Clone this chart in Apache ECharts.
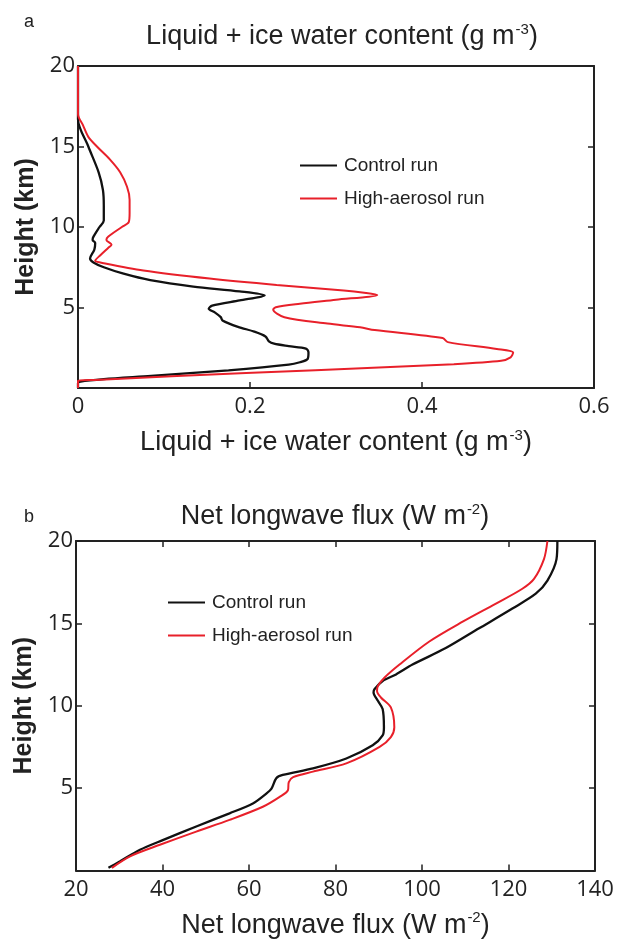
<!DOCTYPE html>
<html>
<head>
<meta charset="utf-8">
<script src="https://cdn.jsdelivr.net/npm/echarts@6/dist/echarts.min.js"></script>
<style>
  html, body { margin: 0; padding: 0; background: #fff; }
  #main { width: 619px; height: 940px; }
</style>
</head>
<body>
<div id="main"></div>
<script>
// panel a: liquid + ice water content [g m-3, height km]
var lwcControl = [
    [0, 20], [0, 16.7], [0.012, 15], [0.024, 13.4], [0.029, 12.3], [0.030, 11.3], [0.030, 10.4],
    [0.025, 10.0], [0.018, 9.4], [0.017, 9.2], [0.020, 9.0], [0.019, 8.6], [0.014, 8.05], [0.018, 7.8],
    [0.030, 7.5], [0.053, 7.1], [0.084, 6.7], [0.134, 6.3], [0.188, 6.0], [0.217, 5.75], [0.188, 5.44],
    [0.156, 5.12], [0.152, 4.92], [0.159, 4.7], [0.166, 4.4], [0.168, 4.2], [0.186, 3.8], [0.205, 3.5],
    [0.218, 3.2], [0.222, 2.9], [0.228, 2.75], [0.245, 2.6], [0.265, 2.45], [0.268, 2.2], [0.267, 1.8],
    [0.258, 1.6], [0.245, 1.45], [0.175, 1.1], [0.085, 0.75], [0.030, 0.55], [0.003, 0.4], [0, 0.3], [0, 0]
];
var lwcAerosol = [
    [0, 20], [0, 17.0], [0.006, 16.3], [0.012, 15.6], [0.022, 15.0], [0.037, 14.2], [0.049, 13.4],
    [0.057, 12.5], [0.060, 11.7], [0.060, 10.85], [0.059, 10.3], [0.051, 10.0], [0.035, 9.4], [0.033, 9.2],
    [0.039, 8.9], [0.035, 8.7], [0.026, 8.25], [0.020, 7.9], [0.026, 7.8], [0.076, 7.3], [0.153, 6.8],
    [0.231, 6.4], [0.309, 6.06], [0.335, 5.9], [0.348, 5.78], [0.300, 5.48], [0.258, 5.23], [0.230, 5.02],
    [0.227, 4.88], [0.240, 4.4], [0.290, 4.0], [0.328, 3.77], [0.345, 3.6], [0.424, 3.1], [0.430, 2.85],
    [0.487, 2.42], [0.506, 2.2], [0.503, 1.9], [0.492, 1.69], [0.437, 1.48], [0.276, 1.1], [0.115, 0.75],
    [0.020, 0.5], [0, 0.45], [0, 0]
];
// panel b: net longwave flux [W m-2, height km]
var lwControl = [
    [131.3, 20], [131.1, 18.9], [129.0, 17.6], [126.3, 16.8], [120.9, 15.9], [113.2, 14.7], [105.5, 13.5],
    [97.8, 12.5], [94.0, 11.9], [90.9, 11.5], [89.0, 11.0], [88.8, 10.8], [89.8, 10.3], [90.9, 9.8],
    [91.2, 8.7], [90.9, 8.2], [88.6, 7.6], [82.5, 6.8], [74.8, 6.2], [67.8, 5.8], [66.3, 5.6], [65.2, 4.97],
    [64.0, 4.67], [60.9, 4.07], [55.5, 3.47], [47.8, 2.67], [40.2, 1.86], [34.8, 1.26], [30.2, 0.56], [27.5, 0.16]
];
var lwAerosol = [
    [129.0, 20], [128.2, 18.9], [125.9, 17.7], [123.2, 17.1], [117.1, 16.2], [109.4, 15.1], [101.7, 13.9],
    [94.8, 12.5], [91.3, 11.7], [89.8, 11.2], [89.6, 10.9], [90.5, 10.5], [92.8, 9.9], [93.6, 8.7],
    [92.8, 8.1], [90.2, 7.5], [82.5, 6.5], [74.8, 6.0], [70.2, 5.67], [69.2, 5.37], [69.0, 4.87],
    [67.1, 4.47], [63.2, 3.87], [55.5, 3.07], [47.8, 2.36], [39.4, 1.56], [32.5, 0.86], [28.3, 0.16]
];
var runNames = ['Control run', 'High-aerosol run'];

var myChart = echarts.init(document.getElementById('main'));

var axisCol = '#222';
var tickFont = { fontFamily: 'Open Sans', fontSize: 22, color: '#222' };
var supRich = {
    base: { fontFamily: 'Liberation Sans', fontSize: 27, fontWeight: 'normal', color: '#222', lineHeight: 30 },
    sup: { fontFamily: 'Liberation Sans', fontSize: 15, fontWeight: 'normal', color: '#222', verticalAlign: 'top', lineHeight: 16, padding: [0, 0, 0, 1] }
};

// 主轴
function mainX(grid, min, max, interval, name, gap) {
    return {
        type: 'value', gridIndex: grid, min: min, max: max, interval: interval, position: 'bottom',
        name: name, nameLocation: 'middle', nameGap: gap,
        nameTextStyle: { rich: supRich },
        axisLine: { show: true, onZero: false, lineStyle: { color: axisCol, width: 2 } },
        axisTick: { show: true, inside: true, length: 6, lineStyle: { color: axisCol, width: 1.5 } },
        axisLabel: Object.assign({ margin: 8 }, tickFont),
        splitLine: { show: false }
    };
}
// 对边（只画线和刻度）
function sideAxis(isX, grid, min, max, interval, ticks) {
    return {
        type: 'value', gridIndex: grid, min: min, max: max, interval: interval,
        position: isX ? 'top' : 'right',
        axisLine: { show: true, onZero: false, lineStyle: { color: axisCol, width: 2 } },
        axisTick: { show: ticks, inside: true, length: 6, lineStyle: { color: axisCol, width: 1.5 } },
        axisLabel: { show: false },
        splitLine: { show: false }
    };
}
function mainY(grid) {
    return {
        type: 'value', gridIndex: grid, min: 0, max: 20, interval: 5, position: 'left',
        name: 'Height (km)', nameLocation: 'middle', nameGap: 34, nameRotate: 90,
        nameTextStyle: { fontFamily: 'Liberation Sans', fontSize: 25, fontWeight: 'bold', color: '#222' },
        axisLine: { show: true, onZero: false, lineStyle: { color: axisCol, width: 2 } },
        axisTick: { show: true, inside: true, length: 6, lineStyle: { color: axisCol, width: 1.5 } },
        axisLabel: Object.assign({
            margin: 3,
            formatter: function (v) { return v === 0 ? '' : v; }
        }, tickFont),
        splitLine: { show: false }
    };
}
function legendAt(left, top) {
    return {
        left: left, top: top, orient: 'vertical', itemGap: 14,
        icon: 'rect', itemWidth: 37, itemHeight: 2,
        data: runNames,
        selectedMode: false,
        textStyle: { fontFamily: 'Liberation Sans', fontSize: 19, color: '#222', padding: [0, 0, 0, 2] }
    };
}
function line(name, data, xi, yi, color, w) {
    return {
        name: name, type: 'line', xAxisIndex: xi, yAxisIndex: yi, data: data,
        showSymbol: false, smooth: 0.3, color: color,
        lineStyle: { color: color, width: w }
    };
}

option = {
    backgroundColor: '#fff',
    animation: false,
    title: [
        { text: 'a', left: 19, top: 8, textStyle: { fontFamily: 'Liberation Sans', fontSize: 18, fontWeight: 'normal', color: '#222' } },
        { text: '{base|Liquid + ice water content (g m}{sup|-3}{base|)}', left: 337, top: 17, textAlign: 'center',
          textStyle: { fontWeight: 'normal', rich: supRich } },
        { text: 'b', left: 19, top: 503, textStyle: { fontFamily: 'Liberation Sans', fontSize: 18, fontWeight: 'normal', color: '#222' } },
        { text: '{base|Net longwave flux (W m}{sup|-2}{base|)}', left: 330, top: 497, textAlign: 'center',
          textStyle: { fontWeight: 'normal', rich: supRich } }
    ],
    legend: [legendAt(295, 151), legendAt(163, 588)],
    grid: [
        { left: 78, right: 25, top: 66, height: 322 },
        { left: 76, right: 24, top: 541, height: 332 }
    ],
    xAxis: [
        mainX(0, 0, 0.6, 0.2, '{base|Liquid + ice water content (g m}{sup|-3}{base|)}', 40),
        sideAxis(true, 0, 0, 0.6, 0.2, false),
        mainX(1, 20, 140, 20, '{base|Net longwave flux (W m}{sup|-2}{base|)}', 40),
        sideAxis(true, 1, 20, 140, 20, true)
    ],
    yAxis: [
        mainY(0),
        sideAxis(false, 0, 0, 20, 5, true),
        mainY(1),
        sideAxis(false, 1, 0, 20, 5, true)
    ],
    series: [
        line(runNames[0], lwcControl, 0, 0, '#111', 2.3),
        line(runNames[1], lwcAerosol, 0, 0, '#e8202a', 2),
        line(runNames[0], lwControl, 2, 2, '#111', 2.3),
        line(runNames[1], lwAerosol, 2, 2, '#e8202a', 2)
    ]
};
myChart.setOption(option);
window.onresize = myChart.resize;
</script>
</body>
</html>
